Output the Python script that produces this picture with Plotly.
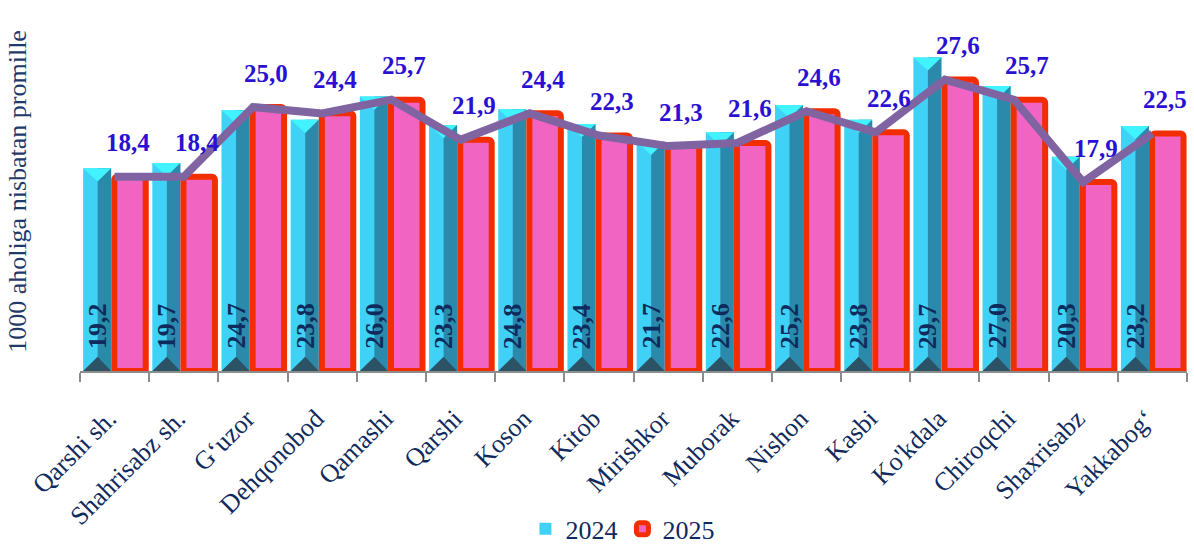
import plotly.graph_objects as go

categories = ["Qarshi sh.", "Shahrisabz sh.", "G\u2018uzor", "Dehqonobod", "Qamashi", "Qarshi",
              "Koson", "Kitob", "Mirishkor", "Muborak", "Nishon", "Kasbi", "Ko'kdala",
              "Chiroqchi", "Shaxrisabz", "Yakkabog\u2018"]
values_2024 = [19.2, 19.7, 24.7, 23.8, 26.0, 23.3, 24.8, 23.4, 21.7, 22.6, 25.2, 23.8, 29.7, 27.0, 20.3, 23.2]
values_2025 = [18.4, 18.4, 25.0, 24.4, 25.7, 21.9, 24.4, 22.3, 21.3, 21.6, 24.6, 22.6, 27.6, 25.7, 17.9, 22.5]
series_names = ["2024", "2025"]

SERIF = "Liberation Serif, Times New Roman, serif"
NAVY = "#0f2a5c"
idx = list(range(len(categories)))

def fmt(v):
    return f"{v:.1f}".replace(".", ",")

# geometry of bars within a category (in category units)
C_L, C_M, C_R = -0.455, -0.245, -0.05
R_OFF, R_W = -0.005, 0.455

fig = go.Figure()

# 2024 light face (full cyan bar)
fig.add_trace(go.Bar(x=idx, y=values_2024, name=series_names[0], offset=C_L, width=C_R - C_L,
                     marker=dict(color="#3fd2f6", line=dict(width=0)), hoverinfo="skip"))
# 2024 dark face
fig.add_trace(go.Bar(x=idx, y=values_2024, showlegend=False, offset=C_M, width=C_R - C_M,
                     marker=dict(color="#2b8aab", line=dict(width=0)), hoverinfo="skip"))
# 2025 bars
fig.add_trace(go.Bar(x=idx, y=values_2025, name=series_names[1], offset=R_OFF, width=R_W,
                     marker=dict(color="#f264c2", line=dict(color="#f22d00", width=6), cornerradius=3),
                     hoverinfo="skip"))

# top bevel triangles and bottom pyramid triangles for 2024 bars
tx, ty, bx, by = [], [], [], []
for i, v in zip(idx, values_2024):
    tx += [i + C_L, i + C_R, i + C_M, i + C_L, None]
    ty += [v, v, v - 1.25, v, None]
    bx += [i + C_L, i + C_R, i + C_M, i + C_L, None]
    by += [0, 0, 1.35, 0, None]
fig.add_trace(go.Scatter(x=tx, y=ty, mode="lines", fill="toself", fillcolor="#41f2ff",
                         line=dict(width=0, color="#41f2ff"), showlegend=False, hoverinfo="skip"))
fig.add_trace(go.Scatter(x=bx, y=by, mode="lines", fill="toself", fillcolor="#2c5266",
                         line=dict(width=0, color="#2c5266"), showlegend=False, hoverinfo="skip"))

# 2025 line
fig.add_trace(go.Scatter(x=idx, y=values_2025, mode="lines", line=dict(color="#8064a2", width=8),
                         showlegend=False, hoverinfo="skip"))

annotations = []
for i, v in zip(idx, values_2025):
    annotations.append(dict(x=i, y=v, xref="x", yref="y", text=fmt(v), showarrow=False,
                            xshift=13, yshift=34, xanchor="center", yanchor="middle",
                            font=dict(family=SERIF, size=25, color="#2a10d2", weight="bold")))
for i, v in zip(idx, values_2024):
    annotations.append(dict(x=i + (C_L + C_R) / 2, y=0, xref="x", yref="y", text=fmt(v),
                            showarrow=False, textangle=-90, xanchor="center", yanchor="bottom",
                            yshift=20,
                            font=dict(family=SERIF, size=26, color=NAVY, weight="bold")))

fig.update_layout(
    width=1194, height=548,
    margin=dict(l=80, r=7, t=12, b=177, autoexpand=False),
    paper_bgcolor="white", plot_bgcolor="white",
    barmode="overlay",
    hovermode=False,
    annotations=annotations,
    legend=dict(orientation="h", x=0.49, xanchor="center", y=-0.44, yanchor="middle",
                font=dict(family=SERIF, size=26, color=NAVY), itemwidth=30,
                bgcolor="rgba(0,0,0,0)", traceorder="normal"),
    xaxis=dict(range=[-0.5, len(categories) - 0.5], tickmode="array", tickvals=idx,
               ticktext=categories, tickangle=-45, ticks="", automargin=False,
               ticklabelstandoff=20, ticklabelshift=-6,
               tickfont=dict(family=SERIF, size=26, color=NAVY),
               showline=True, linecolor="#8c8c8c", linewidth=2, showgrid=False, zeroline=False,
               minor=dict(tickmode="array", tickvals=[i - 0.5 for i in range(len(categories) + 1)],
                          ticks="outside", ticklen=9, tickwidth=2, tickcolor="#8c8c8c", showgrid=False)),
    yaxis=dict(range=[0, 34], showticklabels=False, showgrid=False, zeroline=False, showline=False,
               automargin=False,
               title=dict(text="1000 aholiga nisbatan promille", standoff=44,
                          font=dict(family=SERIF, size=26, color="#1f3a6a"))),
)

fig.write_html("out.html", config={"displayModeBar": False, "staticPlot": True})

# remove default page margin so the figure sits at the window's top-left corner
with open("out.html", "r", encoding="utf-8") as f:
    html = f.read()
html = html.replace("<head>", "<head><style>html,body{margin:0;padding:0;overflow:hidden;}</style>", 1)
with open("out.html", "w", encoding="utf-8") as f:
    f.write(html)
